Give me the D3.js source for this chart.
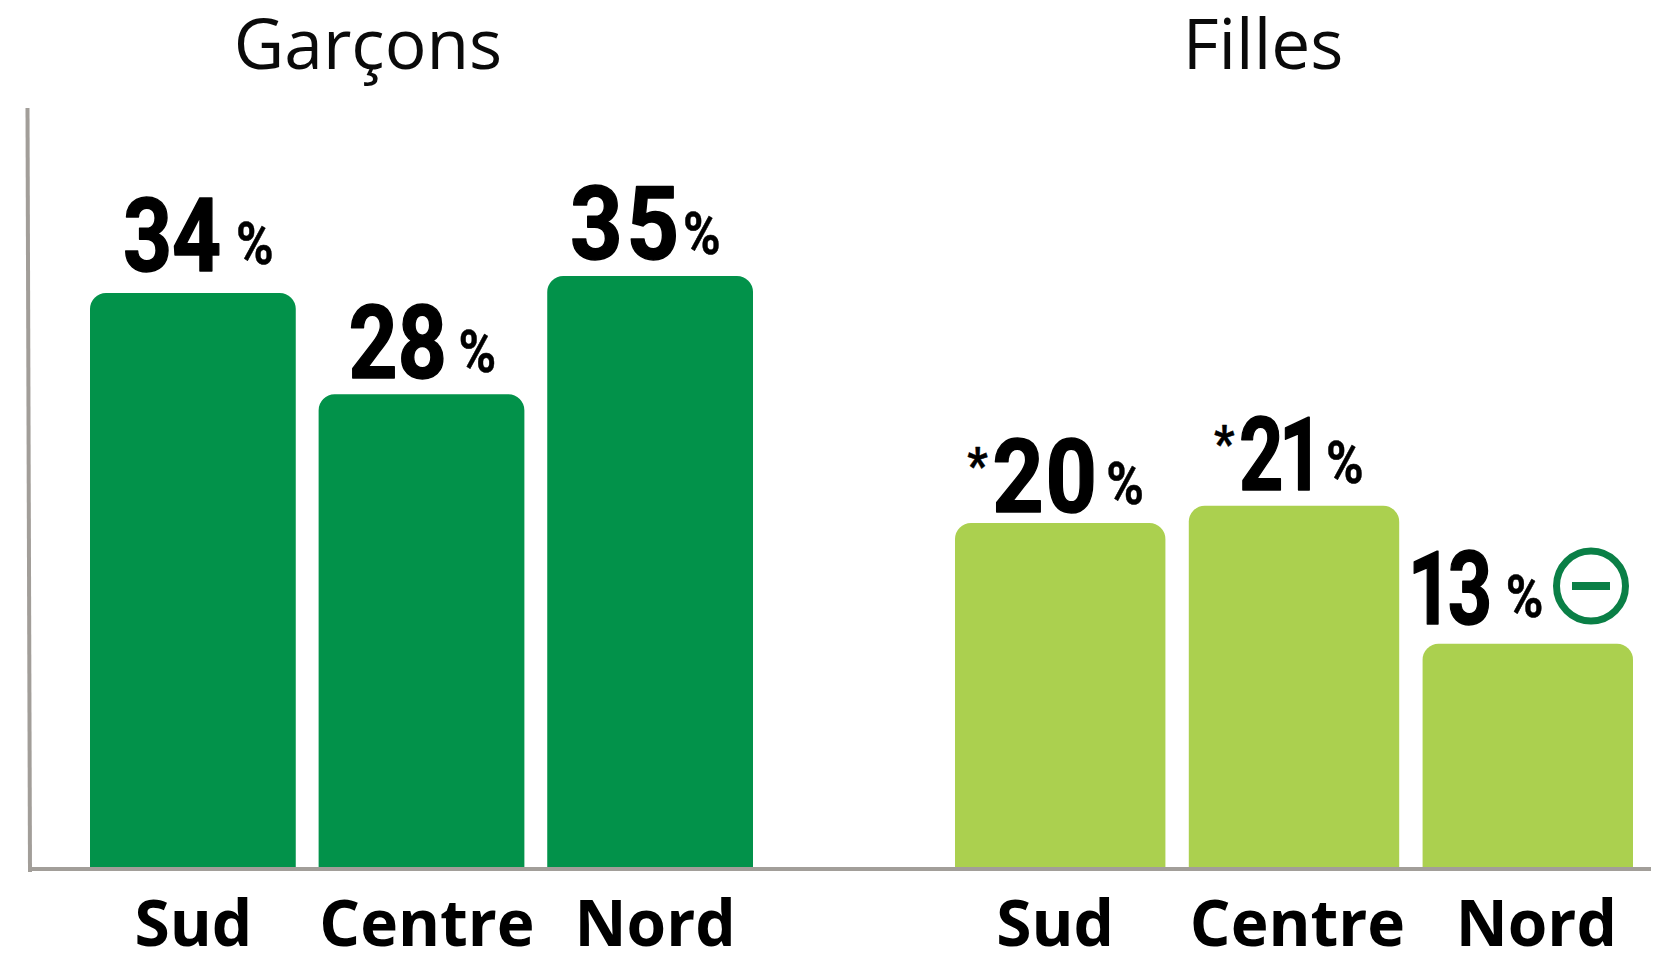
<!doctype html>
<html>

<head>
    <meta charset="utf-8">
    <script src="https://cdnjs.cloudflare.com/ajax/libs/d3/7.8.5/d3.min.js"></script>
    <style>
        html, body { margin: 0; padding: 0; background: #fff; }
        svg { display: block; }
        .title { font-family: "Open Sans"; font-size: 69.5px; fill: #0a0a0a; text-anchor: middle; }
        .tick text { font-family: "Open Sans"; font-weight: 700; font-size: 64px; fill: #000; }
        .num { font-family: "Roboto"; font-weight: 700; fill: #000; stroke: #000; stroke-linejoin: round; }
    </style>
    <title>Garçons / Filles</title>
</head>

<body>
    <svg width="1656" height="957"></svg>

    <script>
        var regions = ["Sud", "Centre", "Nord"];
        var garcons = [34, 28, 35];
        var filles = [20, 21, 13];

        var svg = d3.select("svg");

        // label nudges, the labels are placed by hand in the original
        var groups = [
            {
                title: "Garçons", values: garcons, color: "#02924a",
                xRange: [90, 753], yRange: [867, 293], yMax: 34, titleX: 368,
                tickDx: [0.5, 5.5, 5],
                numDx: [-70, -73, -80], numDy: [-22, -16, -17], numLs: [0, 0, 4], numSx: [0.84, 0.84, 0.9],
                pctDx: [43, 37, 33], pctDy: [-29, -22, -22], star: [false, false, false]
            },
            {
                title: "Filles", values: filles, color: "#abd04f",
                xRange: [955, 1633], yRange: [868, 523], yMax: 20, titleX: 1263,
                tickDx: [-5, 3.5, 8.5],
                numDx: [-68, -55, -120], numDy: [-11, -16, -20], numLs: [2, -6, -6], numSx: [0.88, 0.76, 0.76],
                pctDx: [46, 32, -22], pctDy: [-19, -23, -27], star: [true, true, false]
            }
        ];

        var baseY = 869;

        function barPath(x, y, w, y0, r) {
            var p = d3.path();
            p.moveTo(x, y0);
            p.lineTo(x, y + r);
            p.arcTo(x, y, x + r, y, r);
            p.lineTo(x + w - r, y);
            p.arcTo(x + w, y, x + w, y + r, r);
            p.lineTo(x + w, y0);
            p.closePath();
            return p.toString();
        }

        function addNum(x, y, size, sw, sx, ls, txt) {
            svg.append("text").attr("class", "num")
                .attr("transform", "translate(" + x + "," + y + ") scale(" + sx + ",1)")
                .attr("font-size", size).attr("stroke-width", sw)
                .attr("letter-spacing", ls)
                .text(txt);
        }

        groups.forEach(function (g) {
            var xScale = d3.scaleBand().domain(regions).range(g.xRange).paddingInner(0.1);
            var yScale = d3.scaleLinear().domain([0, g.yMax]).range(g.yRange);

            svg.append("text").attr("class", "title")
                .attr("x", g.titleX).attr("y", 69).text(g.title);

            svg.append("g").selectAll("path")
                .data(g.values)
                .enter().append("path")
                .attr("fill", g.color)
                .attr("d", function (d, i) {
                    return barPath(xScale(regions[i]), yScale(d), xScale.bandwidth(), yScale(0), 16);
                });

            var axis = svg.append("g")
                .attr("transform", "translate(0," + baseY + ")")
                .call(d3.axisBottom(xScale).tickSize(0).tickPadding(0));
            axis.select(".domain").remove();
            axis.selectAll(".tick text")
                .attr("dx", function (d, i) { return g.tickDx[i]; })
                .attr("dy", 0)
                .attr("y", 77);

            g.values.forEach(function (d, i) {
                var cx = xScale(regions[i]) + xScale.bandwidth() / 2;
                var top = yScale(d);
                addNum(cx + g.numDx[i], top + g.numDy[i], 102, 1.5, g.numSx[i], g.numLs[i], d);
                addNum(cx + g.pctDx[i], top + g.pctDy[i], 60, 0.5, 0.85, 0, "%");
                if (g.star[i]) {
                    addNum(cx + g.numDx[i] - 25, top + g.numDy[i] - 29, 50, 0.5, 0.9, 0, "*");
                }
            });
        });

        // axes lines
        svg.append("line").attr("x1", 27.5).attr("y1", 108).attr("x2", 30).attr("y2", 872)
            .attr("stroke", "#a29e99").attr("stroke-width", 4);
        svg.append("line").attr("x1", 29).attr("y1", baseY).attr("x2", 1651).attr("y2", baseY)
            .attr("stroke", "#a29e99").attr("stroke-width", 4);

        // minus badge next to 13 %
        var badge = svg.append("g").attr("transform", "translate(1591,586)");
        badge.append("ellipse").attr("rx", 34.5).attr("ry", 35)
            .attr("fill", "none").attr("stroke", "#0a7f46").attr("stroke-width", 7);
        badge.append("rect").attr("x", -19).attr("y", -4).attr("width", 38).attr("height", 8)
            .attr("fill", "#0a7f46");
    </script>
</body>

</html>
